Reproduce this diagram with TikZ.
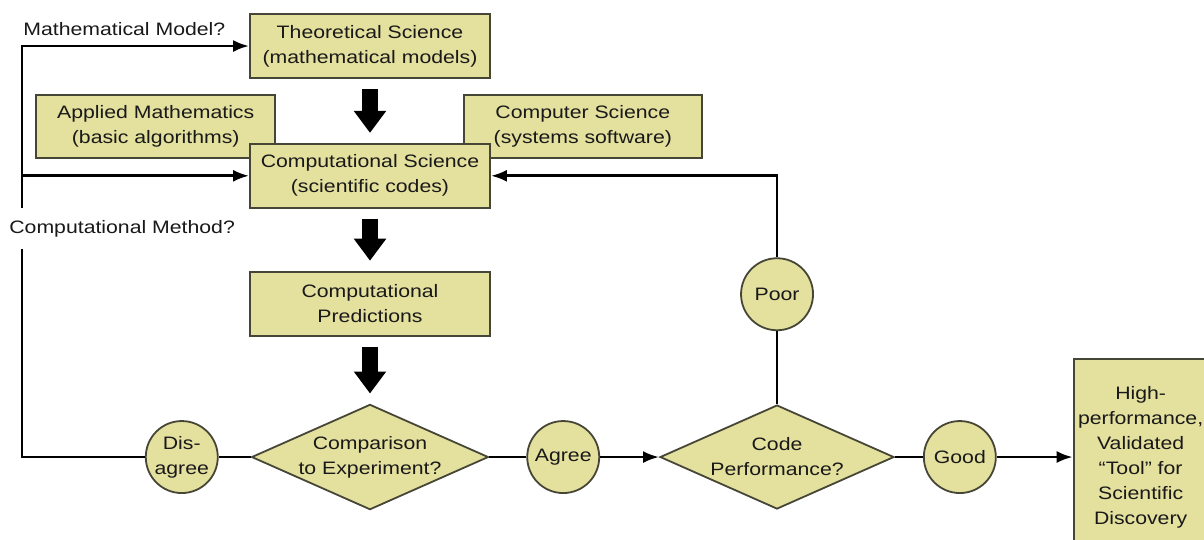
\documentclass[tikz,border=0pt]{standalone}
\usepackage{fontspec}
\setmainfont{Liberation Sans}[FakeStretch=1.18]
\usepackage{tikz}
\usetikzlibrary{positioning}
\usetikzlibrary{arrows.meta}
\usetikzlibrary{shapes,calc}
\definecolor{mykhaki}{RGB}{228,224,158}
\definecolor{myedge}{RGB}{70,70,55}
\tikzset{block node/.style={rectangle,fill=mykhaki,draw=myedge,line width=1.8pt,minimum width=240pt,minimum height=64pt,inner sep=2pt,align=center},}
\tikzset{decision node/.style={diamond,fill=mykhaki,draw=myedge,line width=1.8pt,minimum width=234pt,minimum height=104pt,aspect=2.25,inner sep=0pt,align=center},}
\tikzset{answer node/.style={circle,fill=mykhaki,draw=myedge,line width=1.8pt,minimum size=72pt,inner sep=0pt,align=center},}
\tikzset{big arrow/.style={-{Triangle[length=22pt,width=31pt]},line width=16pt,shorten <=10pt,shorten >=10pt},}

\begin{document}
\begin{tikzpicture}[->, >={Latex[length=16pt,width=12pt]}, x=1pt, y=-1pt, line width=2.8pt, node distance=20pt, font=\fontsize{18}{25}\selectfont, text=black!90]
	\path[use as bounding box, clip] (0,0) rectangle (1204,539);

	\node[block node] (theory) at (370,46) {Theoretical Science\\(mathematical models)};
	\node[block node, minimum width=239pt, minimum height=63pt] (appmath) [below left=15pt and -27pt of theory] {Applied Mathematics\\(basic algorithms)};
	\node[block node, minimum width=238pt, minimum height=63pt] (compsci) [below right=15pt and -28pt of theory] {Computer Science\\(systems software)};
	\node[block node] (comp) [below=64pt of theory] {Computational Science\\(scientific codes)};
	\node[block node] (pred) [below=62pt of comp] {Computational\\Predictions};
	\node[decision node] (cmp) [below=67pt of pred] {Comparison\\to Experiment?};
	\node[answer node] (dis) [left=32pt of cmp] {Dis-\\agree};
	\node[answer node] (agree) [right=37pt of cmp] {Agree};
	\node[decision node] (perf) [right=59pt of agree] {Code\\Performance?};
	\node[answer node] (poor) [above=73pt of perf] {Poor};
	\node[answer node] (good) [right=28pt of perf] {Good};
	\node[block node, minimum width=134pt, minimum height=196pt] (tool) [right=76pt of good] {High-\\performance,\\Validated\\``Tool'' for\\Scientific\\Discovery};

	% big block arrows down the middle
	\draw[big arrow] (theory) -- (comp);
	\draw[big arrow] (comp) -- (pred);
	\draw[big arrow] (pred) -- (cmp);

	% feedback rail on the left
	\coordinate (rail) at (22,46);
	\draw (dis.west) -| (rail) -- (theory);
	\draw (rail |- comp) -- (comp);
	\node[inner sep=0pt] (mmq) [above right=9pt and 0pt of rail] {Mathematical Model?};
	\node[fill=white, inner xsep=2pt, inner ysep=12pt, anchor=base west] (cmq) at (6,233) {Computational Method?};

	\path[draw]
	(cmp) edge [-] (dis)
	(cmp) edge [-] (agree)
	(agree) edge (perf)
	(perf) edge [-] (good)
	(good) edge (tool)
	(perf) edge [-] (poor);
	\draw (poor) |- (comp);
\end{tikzpicture}
\end{document}
